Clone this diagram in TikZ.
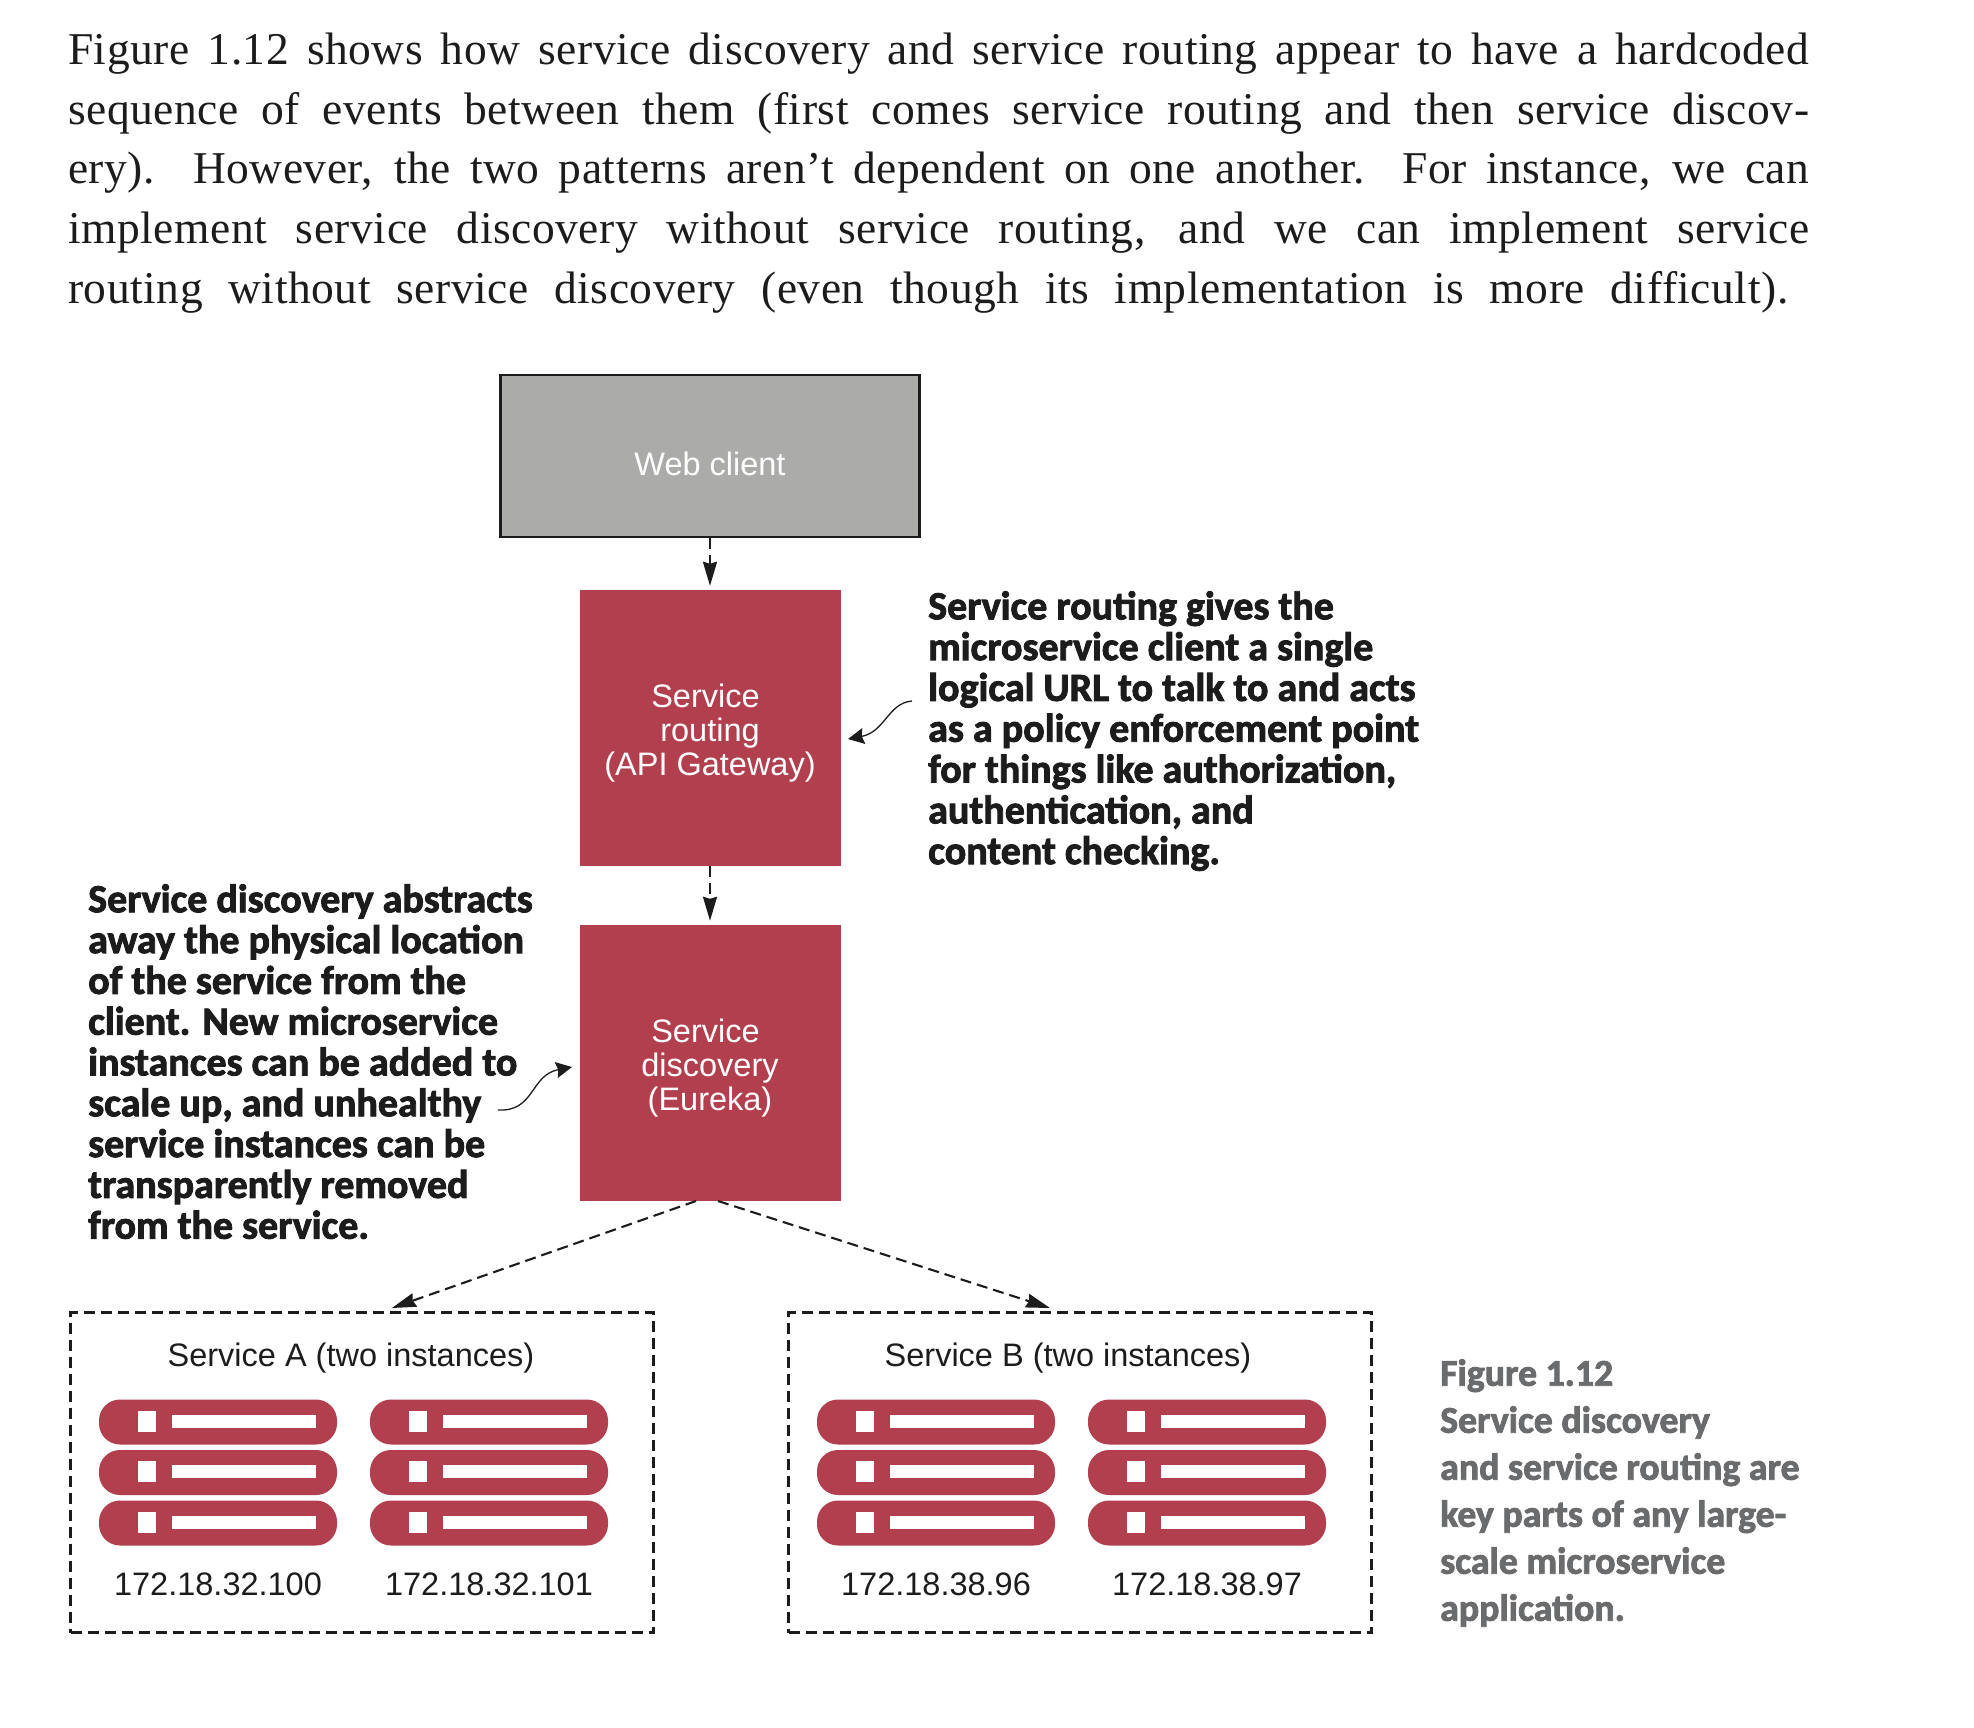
\documentclass[tikz,border=0pt]{standalone}
\usepackage{xcolor}
\usepackage{fontspec}
\usetikzlibrary{arrows.meta,positioning,calc}
\setmainfont{Liberation Serif}
\setsansfont{Liberation Sans}
\newfontfamily\calloutfont[FakeBold=2.2]{Carlito Bold}
\newfontfamily\runningfont[LetterSpace=1.2]{Liberation Serif}
\definecolor{crimson}{HTML}{B23F4D}
\definecolor{clientgray}{HTML}{ABABAA}
\definecolor{ink}{HTML}{1C1C1C}
\definecolor{captiongray}{HTML}{6A6B6D}
\tikzset{
    bodytext/.style={inner sep=0pt, text=ink, font=\runningfont\fontsize{45.5}{60}\selectfont},
    redbox/.style={rectangle, fill=crimson, minimum width=261pt, minimum height=276pt, inner sep=0pt},
    boxlabel/.style={inner sep=0pt, align=center, text=white, font=\sffamily\fontsize{32.5}{34}\selectfont},
    clientbox/.style={rectangle, draw=ink, line width=2.4pt, fill=clientgray, minimum width=419pt, minimum height=162pt},
    groupbox/.style={rectangle, draw=ink, line width=2.1pt, dash pattern=on 11pt off 6pt, minimum width=583pt, minimum height=320pt},
    grouplabel/.style={inner sep=0pt, text=ink, font=\sffamily\fontsize{32.5}{34}\selectfont},
    pill/.style={rectangle, rounded corners=21pt, fill=crimson, minimum width=238pt, minimum height=45pt, inner sep=0pt},
    pilldot/.style={rectangle, fill=white, minimum width=18pt, minimum height=21pt, inner sep=0pt},
    pillbar/.style={rectangle, fill=white, minimum width=144pt, minimum height=13pt, inner sep=0pt},
    callout/.style={anchor=north west, inner sep=0pt, align=left, text=ink, font=\calloutfont\fontsize{40}{40.8}\selectfont},
    sidecaption/.style={anchor=north west, inner sep=0pt, align=left, text=captiongray, font=\calloutfont\fontsize{37.8}{47}\selectfont},
    flow/.style={line width=2.1pt, dash pattern=on 11pt off 6pt, draw=ink, -{Stealth[inset=2pt,length=24pt,width=14pt]}},
    pointer/.style={line width=1.3pt, draw=ink, -{Stealth[inset=2pt,length=16pt,width=16pt]}},
}
\begin{document}
\begin{tikzpicture}[x=1pt, y=-1pt]
    \useasboundingbox (0,0) rectangle (1974,1728);

    % running text
    \node[bodytext, anchor=base west] (line1) at (68,65) {\makebox[1741pt][s]{Figure 1.12 shows how service discovery and service routing appear to have a hardcoded}};
    \node[bodytext, anchor=base west] (line2) at (68,125) {\makebox[1741pt][s]{sequence of events between them (first comes service routing and then service discov-}};
    \node[bodytext, anchor=base west] (line3) at (68,184) {\makebox[1741pt][s]{ery). However, the two patterns aren’t dependent on one another. For instance, we can}};
    \node[bodytext, anchor=base west] (line4) at (68,244) {\makebox[1741pt][s]{implement service discovery without service routing, and we can implement service}};
    \node[bodytext, anchor=base west] (line5) at (68,304) {\makebox[1720pt][s]{routing without service discovery (even though its implementation is more difficult).}};

    % boxes
    \node[clientbox] (client) at (710,456) {};
    \node[boxlabel] (clientlabel) at (710,464) {Web client};
    \node[redbox] (routing) at (710,728) {};
    \node[boxlabel] (routinglabel) at (710,733) {Service\hspace*{9pt}\\routing\hspace*{9pt}\\(API Gateway)};
    \node[redbox] (discovery) at (710,1063) {};
    \node[boxlabel] (discoverylabel) at (710,1068) {Service\hspace*{9pt}\\discovery\hspace*{1pt}\\(Eureka)};

    \node[groupbox] (groupa) at (362,1472.5) {};
    \node[groupbox] (groupb) at (1080,1472.5) {};
    \node[grouplabel] (labela) at (351,1358) {Service A (two instances)};
    \node[grouplabel] (labelb) at (1068,1358) {Service B (two instances)};

    % server stacks
    \foreach \sx/\ip in {218/172.18.32.100, 489/172.18.32.101, 936/172.18.38.96, 1207/172.18.38.97} {
        \foreach \sy in {1422,1472.5,1523} {
            \node[pill] (pill-\sx-\sy) at (\sx,\sy) {};
            \node[pilldot] (dot-\sx-\sy) at (\sx-71,\sy-1) {};
            \node[pillbar] (bar-\sx-\sy) at (\sx+26,\sy-1) {};
        }
        \node[grouplabel] (ip-\sx) at (\sx,1584) {\ip};
    }

    % callouts
    \node[callout] (routingnote) at (928,591) {Service routing gives the\\microservice client a single\\logical URL to talk to and acts\\as a policy enforcement point\\for things like authorization,\\authentication, and\\content checking.};
    \node[callout] (discoverynote) at (88,884) {Service discovery abstracts\\away the physical location\\of the service from the\\client. New microservice\\instances can be added to\\scale up, and unhealthy\\service instances can be\\transparently removed\\from the service.};
    \node[sidecaption] (caption) at (1440,1359) {Figure 1.12\\Service discovery\\and service routing are\\key parts of any large-\\scale microservice\\application.};

    % connectors
    \coordinate (tipa) at (392,1308);
    \coordinate (tipb) at (1050,1308);
    \coordinate (starta) at (696,1201);
    \coordinate (startb) at (718,1201);
    \coordinate (routingfoot) at (912,701);
    \coordinate (routingtip) at (848,739);
    \coordinate (discoveryfoot) at (498,1110);
    \coordinate (discoverytip) at (572,1067);

    \draw[flow, shorten >=4pt] (client) -- (routing);
    \draw[flow, shorten >=4pt] (routing) -- (discovery);
    \draw[flow] (starta) -- (tipa);
    \draw[flow] (startb) -- (tipb);
    \draw[pointer] (routingfoot) .. controls (888,703) and (885,732) .. (routingtip);
    \draw[pointer] (discoveryfoot) .. controls (535,1112) and (530,1075) .. (discoverytip);
\end{tikzpicture}
\end{document}
